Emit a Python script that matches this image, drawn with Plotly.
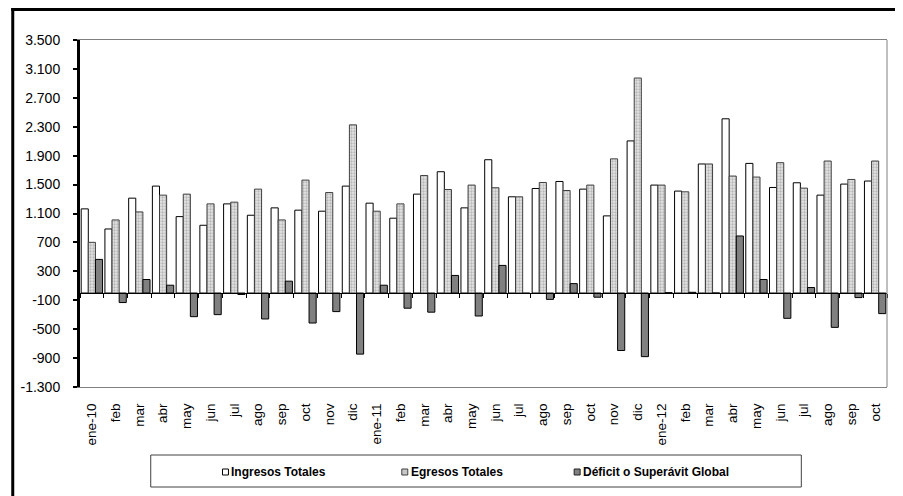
import plotly.graph_objects as go

months = ["ene-10", "feb", "mar", "abr", "may", "jun", "jul", "ago", "sep", "oct", "nov", "dic",
          "ene-11", "feb", "mar", "abr", "may", "jun", "jul", "ago", "sep", "oct", "nov", "dic",
          "ene-12", "feb", "mar", "abr", "may", "jun", "jul", "ago", "sep", "oct"]

ingresos = [1164, 886, 1312, 1479, 1057, 937, 1233, 1076, 1178, 1146, 1132, 1479,
            1243, 1035, 1368, 1678, 1178, 1844, 1331, 1446, 1543, 1437, 1067, 2104,
            1493, 1410, 1785, 2410, 1793, 1460, 1525, 1354, 1507, 1549]

egresos = [701, 1011, 1122, 1354, 1368, 1233, 1257, 1437, 1011, 1562, 1390, 2326,
           1132, 1233, 1626, 1432, 1493, 1456, 1331, 1529, 1418, 1493, 1856, 2974,
           1493, 1400, 1785, 1618, 1604, 1803, 1451, 1826, 1571, 1826]

deficit = [465, -132, 187, 108, -327, -299, -20, -359, 164, -415, -257, -845,
           108, -210, -265, 243, -318, 382, -5, -88, 130, -58, -795, -880,
           5, 10, 0, 789, 187, -350, 76, -475, -63, -285]

series_names = ["Ingresos Totales", "Egresos Totales", "Déficit o Superávit Global"]

y_tick_vals = [3500, 3100, 2700, 2300, 1900, 1500, 1100, 700, 300, -100, -500, -900, -1300]
y_tick_text = ["3.500", "3.100", "2.700", "2.300", "1.900", "1.500", "1.100", "700", "300",
               "-100", "-500", "-900", "-1.300"]

# ---- layout geometry (pixels) ----
# the page body has an 8px default margin, so the figure is drawn 8px in from the window
OFF = 8
W, H = 903 - OFF, 496 - OFF
ML, MR, MT, MB = 77 - OFF, 16, 40 - OFF, 109
PW = W - ML - MR
PH = H - MT - MB


def px(x):
    """window x pixel -> paper x"""
    return (x - OFF - ML) / PW


def py(y):
    """window y pixel -> paper y"""
    return (H - MB - (y - OFF)) / PH


FONT = "Liberation Sans, Arial, sans-serif"
idx = list(range(len(months)))

fig = go.Figure()
fig.add_trace(go.Bar(
    x=idx, y=ingresos, name=series_names[0],
    marker=dict(color="white", line=dict(color="black", width=1)),
))
fig.add_trace(go.Bar(
    x=idx, y=egresos, name=series_names[1],
    marker=dict(color="#d0d0d0", line=dict(color="#404040", width=1),
                pattern=dict(shape=".", fgcolor="#8a8a8a", bgcolor="#e4e4e4", size=3, solidity=0.45)),
))
fig.add_trace(go.Bar(
    x=idx, y=deficit, name=series_names[2],
    marker=dict(color="#808080", line=dict(color="black", width=1)),
))
# invisible trace to carry the zero-crossing category axis
fig.add_trace(go.Scatter(x=idx, y=deficit, mode="none", xaxis="x2",
                         showlegend=False, hoverinfo="skip"))

boundaries = [i - 0.5 for i in range(len(months) + 1)]

fig.update_layout(
    width=W, height=H,
    margin=dict(l=ML, r=MR, t=MT, b=MB),
    paper_bgcolor="white", plot_bgcolor="white",
    barmode="group", bargap=0.1, bargroupgap=0.0,
    showlegend=False,
    font=dict(family=FONT, size=12, color="black"),
    xaxis=dict(
        range=[-0.5, len(months) - 0.5], tickmode="array", tickvals=idx, ticktext=months,
        tickangle=-90, ticks="", showgrid=False, zeroline=False,
        showline=True, linecolor="#808080", linewidth=1, mirror=True,
        tickfont=dict(family=FONT, size=13.5, color="black"), ticklabelstandoff=10,
    ),
    xaxis2=dict(
        overlaying="x", anchor="free", position=1300 / 4800,
        range=[-0.5, len(months) - 0.5], tickmode="array", tickvals=boundaries,
        showticklabels=False, ticks="outside", ticklen=4, tickwidth=1, tickcolor="black",
        showline=True, linecolor="black", linewidth=1, showgrid=False, zeroline=False,
    ),
    yaxis=dict(
        range=[-1300, 3500], tickmode="array", tickvals=y_tick_vals, ticktext=y_tick_text,
        ticks="outside", ticklen=4, tickwidth=2, tickcolor="black",
        showline=True, linecolor="black", linewidth=3, showgrid=False, zeroline=False,
        tickfont=dict(family=FONT, size=14, color="black"), ticklabelstandoff=10,
    ),
)

shapes = [
    # right border of plot area
    dict(type="line", xref="paper", yref="paper", x0=1, x1=1, y0=0, y1=1,
         line=dict(color="#808080", width=1)),
    # outer chart frame (top and left)
    dict(type="line", xref="paper", yref="paper", x0=px(8), x1=px(910), y0=py(9.5), y1=py(9.5),
         line=dict(color="black", width=3)),
    dict(type="line", xref="paper", yref="paper", x0=px(9.5), x1=px(9.5), y0=py(8), y1=py(505),
         line=dict(color="black", width=3)),
    # legend box
    dict(type="rect", xref="paper", yref="paper", x0=px(148), x1=px(801), y0=py(487), y1=py(455),
         line=dict(color="#404040", width=1), fillcolor="white"),
]

legend_items = [
    (series_names[0], 220, "white", "black"),
    (series_names[1], 400, "#c8c8c8", "#404040"),
    (series_names[2], 573, "#808080", "#202020"),
]
annotations = []
for name, x0, fill, edge in legend_items:
    shapes.append(dict(type="rect", xref="paper", yref="paper",
                       x0=px(x0), x1=px(x0 + 6), y0=py(475), y1=py(469),
                       line=dict(color=edge, width=1), fillcolor=fill))
    annotations.append(dict(xref="paper", yref="paper", x=px(x0 + 7), y=py(472),
                            text="<b>" + name + "</b>", showarrow=False,
                            xanchor="left", yanchor="middle",
                            font=dict(family=FONT, size=12, color="black")))

fig.update_layout(shapes=shapes, annotations=annotations)

fig.write_html("out.html")
